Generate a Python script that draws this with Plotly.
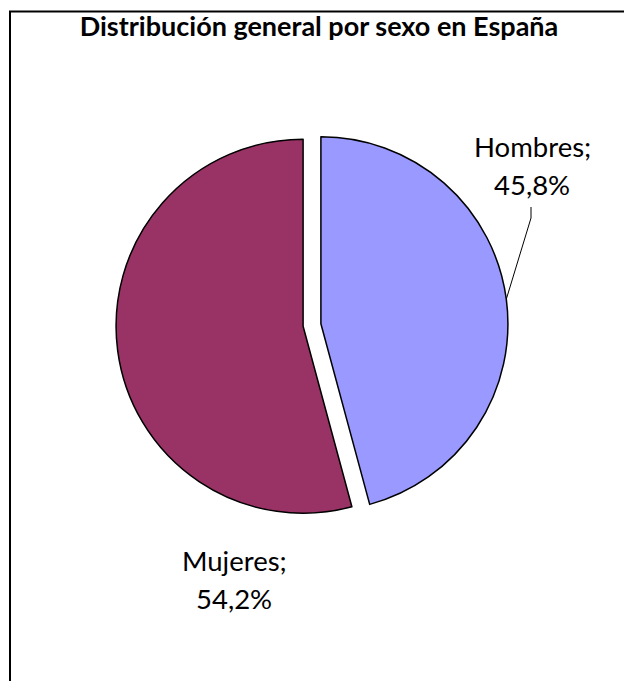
import math
import plotly.graph_objects as go

# Canvas size in pixels
W, H = 624, 681

# Data
sexos = ["Hombres", "Mujeres"]
porcentajes = [45.8, 54.2]
colores = ["#9999FF", "#993366"]
titulo = "Distribución general por sexo en España"

# Pie placement (pixels)
pull = 0.048
cx, cy = 312, 325          # centre of the pie box
half = 196                 # half side of the pie box
radio = half / (1 + pull)  # radius used by plotly once slices are pulled


def px(x):
    return x / W


def py(y):
    return 1 - y / H


fig = go.Figure(
    go.Pie(
        labels=sexos,
        values=porcentajes,
        sort=False,
        direction="clockwise",
        rotation=0,
        pull=[pull] * len(sexos),
        marker=dict(colors=colores, line=dict(color="black", width=1.5)),
        textinfo="none",
        hoverinfo="label+percent",
        showlegend=False,
        domain=dict(x=[px(cx - half), px(cx + half)], y=[py(cy + half), py(cy - half)]),
    )
)

# Mid angle of each slice (clockwise from 12 o'clock)
total = sum(porcentajes)
angulos = []
acum = 0
for v in porcentajes:
    angulos.append(360 * (acum + v / 2) / total)
    acum += v


def borde(i):
    """Point on the outer edge of slice i, along its bisector."""
    a = math.radians(angulos[i])
    ox = cx + pull * radio * math.sin(a)
    oy = cy - pull * radio * math.cos(a)
    return ox + radio * math.sin(a), oy - radio * math.cos(a)


def fmt(v):
    return f"{v:.1f}%".replace(".", ",")


# Label positions (pixels): centre x, y of name line, y of value line
pos_etiquetas = [(532, 146, 184), (234, 560, 598)]
fuente = dict(family="Lato, 'Open Sans', sans-serif", size=27.5, color="black")

annotations = []
for nombre, v, (lx, y1, y2) in zip(sexos, porcentajes, pos_etiquetas):
    annotations.append(dict(x=px(lx), y=py(y1), xref="paper", yref="paper", text=f"{nombre};",
                            showarrow=False, xanchor="center", yanchor="middle", font=fuente))
    annotations.append(dict(x=px(lx), y=py(y2), xref="paper", yref="paper", text=fmt(v),
                            showarrow=False, xanchor="center", yanchor="middle", font=fuente))

shapes = []
# Leader line for the Hombres label
ex, ey = borde(0)
lx0, ly0 = 531, 207
shapes.append(dict(type="path", xref="paper", yref="paper",
                   path=f"M {px(lx0)} {py(ly0)} L {px(lx0)} {py(ly0 + 11)} L {px(ex)} {py(ey)}",
                   line=dict(color="black", width=1)))
# Chart frame
shapes.append(dict(type="rect", xref="paper", yref="paper",
                   x0=px(10), x1=1.2, y0=-0.2, y1=py(11.5),
                   line=dict(color="black", width=2), fillcolor="rgba(0,0,0,0)"))

fig.update_layout(
    width=W, height=H,
    margin=dict(l=0, r=0, t=0, b=0),
    paper_bgcolor="white", plot_bgcolor="white",
    title=dict(text=f"<b>{titulo}</b>", x=px(319), y=py(27), xanchor="center", yanchor="middle",
               xref="paper", yref="paper",
               font=dict(family="Lato, 'Open Sans', sans-serif", size=27, color="black")),
    annotations=annotations,
    shapes=shapes,
)

fig.write_html("out.html")
